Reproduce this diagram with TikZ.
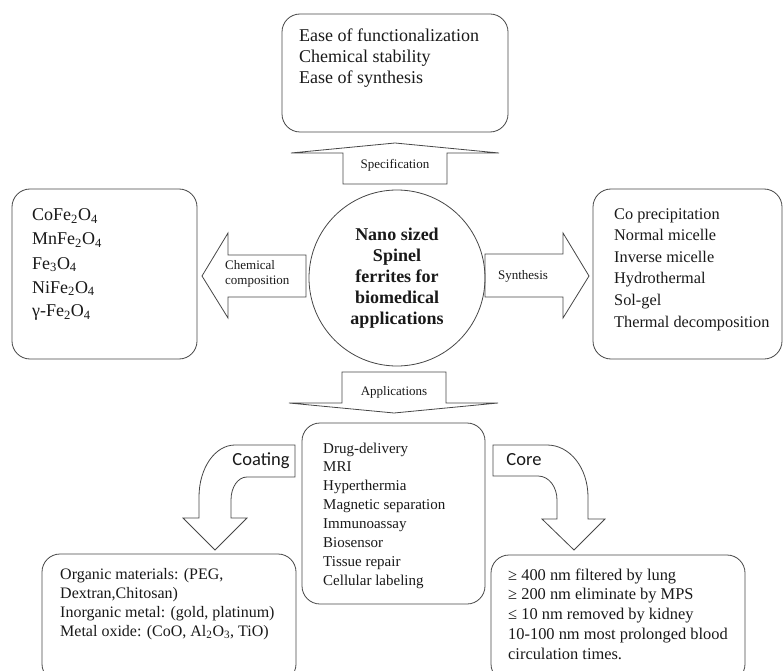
\documentclass[tikz,border=0pt]{standalone}
\usepackage{fontspec}
\setmainfont{Liberation Serif}
\newfontfamily\labelsans{Carlito}
\definecolor{linec}{RGB}{70,70,70}
\definecolor{txtc}{RGB}{25,25,25}
\newcommand{\sbs}[1]{\textsubscript{#1}}
% a left-aligned block of lines whose baseline is that of its first line
\newcommand{\linelist}[1]{\begin{tabular}[t]{@{}l@{}}#1\end{tabular}}
\begin{document}
\begin{tikzpicture}[x=1pt,y=-1pt,
  outline/.style={draw=linec, line width=0.8pt, line join=miter},
  roundbox/.style={outline, rounded corners=18pt},
  listtext/.style={anchor=base west, inner sep=0pt, text=txtc},
  tag/.style={inner sep=0pt, text=txtc, font=\fontsize{13}{14.5}\selectfont},
  bendtag/.style={inner sep=0pt, text=txtc, font=\labelsans\fontsize{18.5}{20}\selectfont}]
\useasboundingbox (0,0) rectangle (784,671);

% ---- central hub ----
\node[circle, outline, minimum size=176pt, inner sep=0pt, align=center, text=txtc,
      font=\bfseries\fontsize{18}{21}\selectfont] (hub) at (397,278)
  {Nano sized\\Spinel\\ferrites for\\biomedical\\applications};

% ---- specification (up) ----
\draw[roundbox] (282,14) rectangle (508,132);
\node[listtext, font=\fontsize{18}{20.6}\selectfont] (spec) at (299,42)
  {\linelist{Ease of functionalization\\Chemical stability\\Ease of synthesis}};
\draw[outline] (343,184) -- (343,153) -- (291,153) -- (395,143) -- (499,153)
  -- (447,153) -- (447,184) -- cycle;
\node[tag] (speclbl) at (395,165) {Specification};

% ---- chemical composition (left) ----
\draw[outline] (306,255) -- (228,255) -- (228,233) -- (202,276) -- (228,318)
  -- (228,297) -- (306,297) -- cycle;
\node[tag, align=left, anchor=west] (complbl) at (225,274) {Chemical\\composition};
\draw[roundbox] (12,189) rectangle (197,359);
\node[listtext, font=\fontsize{18}{24}\selectfont] (comp) at (32,221)
  {\linelist{CoFe\sbs{2}O\sbs{4}\\MnFe\sbs{2}O\sbs{4}\\Fe\sbs{3}O\sbs{4}\\NiFe\sbs{2}O\sbs{4}\\γ-Fe\sbs{2}O\sbs{4}}};

% ---- synthesis (right) ----
\draw[outline] (485,254) -- (563,254) -- (563,233) -- (589,276) -- (563,318)
  -- (563,297) -- (485,297) -- cycle;
\node[tag] (synlbl) at (523,276) {Synthesis};
\draw[roundbox] (593,189) rectangle (782,359);
\node[listtext, font=\fontsize{16.3}{21.6}\selectfont] (syn) at (614,219)
  {\linelist{Co precipitation\\Normal micelle\\Inverse micelle\\Hydrothermal\\Sol-gel\\Thermal decomposition}};

% ---- applications (down) ----
\draw[outline] (342,403) -- (342,372) -- (446,372) -- (446,403) -- (498,403)
  -- (394,413) -- (289,403) -- cycle;
\node[tag] (applbl) at (394,392) {Applications};
\draw[roundbox] (302,423) rectangle (485,604);
\node[listtext, font=\fontsize{15}{18.9}\selectfont] (app) at (323,453)
  {\linelist{Drug-delivery\\MRI\\Hyperthermia\\Magnetic separation\\Immunoassay\\Biosensor\\Tissue repair\\Cellular labeling}};

% ---- coating (curved, lower left) ----
\draw[outline] (295,445) -- (235,445) .. controls (215,445) and (199,468) .. (199,497)
  -- (199,518) -- (183,518) -- (215,550) -- (247,518) -- (231,518) -- (231,500)
  .. controls (231,487) and (238,477) .. (247,477) -- (295,477) -- cycle;
\node[bendtag] (coatlbl) at (261,461) {Coating};
\draw[roundbox] (42,554) rectangle (296,682);
\node[listtext, font=\fontsize{16}{19}\selectfont] (coat) at (60,579)
  {\linelist{Organic materials: (PEG,\\Dextran,Chitosan)\\Inorganic metal: (gold, platinum)\\Metal oxide: (CoO, Al\sbs{2}O\sbs{3}, TiO)}};

% ---- core (curved, lower right) ----
\draw[outline] (493,445) -- (547,445) .. controls (570,445) and (588,468) .. (588,497)
  -- (588,519) -- (605,519) -- (574,550) -- (542,519) -- (557,519) -- (557,500)
  .. controls (557,487) and (549,476) .. (538,476) -- (493,476) -- cycle;
\node[bendtag] (corelbl) at (524,460) {Core};
\draw[roundbox] (491,555) rectangle (745,682);
\node[listtext, font=\fontsize{16.4}{19.8}\selectfont] (core) at (508,580)
  {\linelist{≥ 400 nm filtered by lung\\≥ 200 nm eliminate by MPS\\≤ 10 nm removed by kidney\\10-100 nm most prolonged blood\\circulation times.}};
\end{tikzpicture}
\end{document}
